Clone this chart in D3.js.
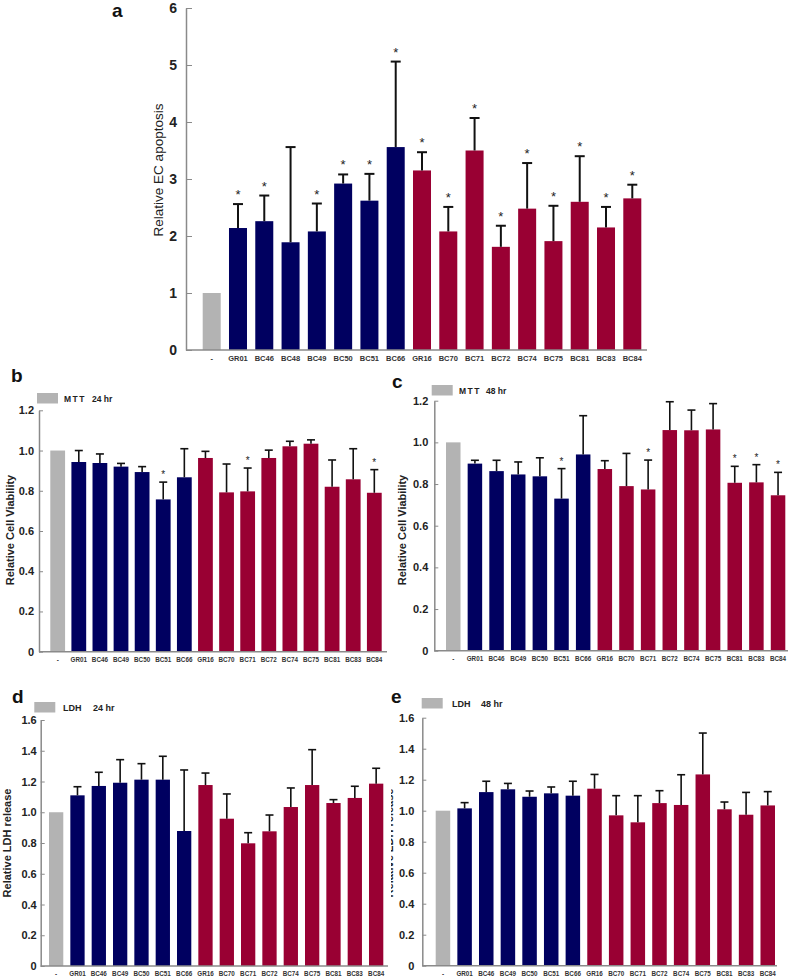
<!DOCTYPE html>
<html>
<head>
<meta charset="utf-8">
<script src="https://cdn.jsdelivr.net/npm/d3@7"></script>
<style>
  body { margin: 0; background: #fff; }
  text { font-family: "Liberation Sans", Arial, sans-serif; }
</style>
</head>
<body>
<div id="chart"></div>
<script>
// categories
var catsA = ["-","GR01","BC46","BC48","BC49","BC50","BC51","BC66","GR16","BC70","BC71","BC72","BC74","BC75","BC81","BC83","BC84"]
var groupsA = ["ctrl","gr","gr","gr","gr","gr","gr","gr","bc","bc","bc","bc","bc","bc","bc","bc","bc"]
var catsB = ["-","GR01","BC46","BC49","BC50","BC51","BC66","GR16","BC70","BC71","BC72","BC74","BC75","BC81","BC83","BC84"]
var groupsB = ["ctrl","gr","gr","gr","gr","gr","gr","bc","bc","bc","bc","bc","bc","bc","bc","bc"]

// a: relative EC apoptosis
var apoMean = [1.0, 2.14, 2.26, 1.89, 2.08, 2.92, 2.62, 3.56, 3.15, 2.08, 3.50, 1.81, 2.48, 1.91, 2.60, 2.15, 2.66]
var apoErr  = [0, 0.42, 0.45, 1.67, 0.49, 0.16, 0.47, 1.50, 0.32, 0.43, 0.57, 0.37, 0.80, 0.62, 0.80, 0.36, 0.24]
var apoSig  = [0,1,1,0,1,1,1,1,1,1,1,1,1,1,1,1,1]

// b: MTT 24 hr
var mtt24Mean = [1.0, 0.943, 0.938, 0.92, 0.893, 0.757, 0.867, 0.963, 0.792, 0.797, 0.963, 1.021, 1.034, 0.82, 0.857, 0.79]
var mtt24Err  = [0, 0.057, 0.045, 0.016, 0.027, 0.086, 0.142, 0.033, 0.141, 0.116, 0.039, 0.025, 0.019, 0.133, 0.152, 0.115]
var mtt24Sig  = [0,0,0,0,0,1,0,0,0,1,0,0,0,0,0,1]

// c: MTT 48 hr
var mtt48Mean = [1.0, 0.898, 0.862, 0.846, 0.837, 0.73, 0.942, 0.872, 0.79, 0.774, 1.059, 1.058, 1.062, 0.806, 0.808, 0.746]
var mtt48Err  = [0, 0.016, 0.052, 0.06, 0.089, 0.144, 0.186, 0.04, 0.157, 0.141, 0.136, 0.097, 0.124, 0.079, 0.085, 0.11]
var mtt48Sig  = [0,0,0,0,0,1,0,0,0,1,0,0,0,1,1,1]

// d: LDH 24 hr
var ldh24Mean = [1.0, 1.11, 1.171, 1.192, 1.212, 1.212, 0.878, 1.177, 0.958, 0.798, 0.876, 1.034, 1.177, 1.06, 1.093, 1.186]
var ldh24Err  = [0, 0.056, 0.089, 0.15, 0.104, 0.152, 0.397, 0.078, 0.161, 0.069, 0.106, 0.124, 0.23, 0.022, 0.076, 0.1]

// e: LDH 48 hr
var ldh48Mean = [1.0, 1.015, 1.12, 1.138, 1.09, 1.112, 1.097, 1.142, 0.97, 0.925, 1.049, 1.037, 1.234, 1.009, 0.974, 1.034]
var ldh48Err  = [0, 0.037, 0.07, 0.038, 0.037, 0.041, 0.093, 0.092, 0.127, 0.172, 0.08, 0.195, 0.267, 0.047, 0.144, 0.089]

var ticksA = [0,1,2,3,4,5,6]
var ticksMTT = [0,0.2,0.4,0.6,0.8,1.0,1.2]
var ticksLDH = [0,0.2,0.4,0.6,0.8,1.0,1.2,1.4,1.6]

var color = d3.scaleOrdinal()
    .domain(["ctrl","gr","bc"])
    .range(["#b3b3b3","#000060","#990033"])

var svg = d3.select("#chart").append("svg")
    .attr("width", 789)
    .attr("height", 977)

svg.append("rect").attr("width", 789).attr("height", 977).attr("fill", "#fff")

// panel e's y title is cut off on its left half in the original
svg.append("defs").append("clipPath").attr("id", "clipE")
    .append("rect").attr("x", 391).attr("y", 660).attr("width", 400).attr("height", 320)

function fmt(v) { return v === 0 ? "0" : d3.format(".1f")(v) }

function drawPanel(p) {
    var g = svg.append("g")
    if (p.clip) g.attr("clip-path", "url(#" + p.clip + ")")

    var x = d3.scaleBand()
        .domain(p.cats)
        .range(p.band)
        .paddingInner(p.pad)
        .paddingOuter(0)

    var y = d3.scaleLinear()
        .domain([0, p.ymax])
        .range(p.yrange)

    // bars
    g.selectAll(null)
        .data(p.means)
        .join("rect")
        .attr("x", (d, i) => x(p.cats[i]))
        .attr("width", x.bandwidth())
        .attr("y", d => y(d))
        .attr("height", d => y(0) - y(d))
        .attr("fill", (d, i) => color(p.groups[i]))

    // error bars + stars
    var cap = p.cap
    p.means.forEach(function(m, i) {
        if (!p.errs[i]) return
        var cx = x(p.cats[i]) + x.bandwidth() / 2
        var top = y(m + p.errs[i])
        g.append("line").attr("x1", cx).attr("x2", cx).attr("y1", y(m)).attr("y2", top)
            .attr("stroke", "#111").attr("stroke-width", p.ew)
        g.append("line").attr("x1", cx - cap / 2).attr("x2", cx + cap / 2).attr("y1", top).attr("y2", top)
            .attr("stroke", "#111").attr("stroke-width", p.ew)
        if (p.sigs && p.sigs[i]) {
            g.append("text").attr("x", cx).attr("y", top - p.starGap)
                .attr("text-anchor", "middle")
                .style("font-size", p.starSize + "px")
                .attr("fill", "#222")
                .text("*")
        }
    })

    // y axis
    var yAxis = g.append("g")
        .attr("transform", "translate(" + p.axisX + ",0)")
        .call(d3.axisLeft(y).tickValues(p.ticks).tickFormat(p.tickFmt)
            .tickSizeInner(-p.tick).tickSizeOuter(0).tickPadding(p.tickPad))
    yAxis.select(".domain").attr("stroke", "#8a8a8a").attr("stroke-width", 1.5)
    yAxis.selectAll(".tick line").attr("stroke", "#8a8a8a").attr("stroke-width", 1)
    yAxis.selectAll(".tick text")
        .style("font-size", p.tickSize + "px")
        .style("font-weight", "bold")
        .attr("fill", "#222")

    // x axis
    var xAxis = g.append("g")
        .attr("transform", "translate(0," + y(0) + ")")
        .call(d3.axisBottom(x).tickSize(0).tickPadding(p.xPad))
    xAxis.select(".domain").remove()
    xAxis.selectAll(".tick text")
        .style("font-size", p.xSize + "px")
        .style("font-weight", "bold")
        .attr("fill", "#333")
    g.append("line")
        .attr("x1", p.axisX).attr("x2", p.xEnd)
        .attr("y1", y(0)).attr("y2", y(0))
        .attr("stroke", "#8a8a8a").attr("stroke-width", 1.5)

    // y title
    g.append("text")
        .attr("transform", "translate(" + p.titleX + "," + p.titleY + ") rotate(-90)")
        .attr("text-anchor", "middle")
        .attr("dominant-baseline", "central")
        .style("font-size", p.titleSize + "px")
        .style("font-weight", p.titleWeight)
        .attr("fill", "#222")
        .text(p.title)

    // panel letter
    svg.append("text")
        .attr("x", p.letter[1]).attr("y", p.letter[2])
        .style("font-size", "19px").style("font-weight", "bold")
        .attr("fill", "#111")
        .text(p.letter[0])

    // legend
    if (p.legend) {
        var L = p.legend
        svg.append("rect").attr("x", L.x).attr("y", L.y).attr("width", 21).attr("height", 10.5)
            .attr("fill", color("ctrl"))
        svg.append("text").attr("x", L.tx).attr("y", L.y + 9)
            .style("font-size", L.size + "px").style("font-weight", "bold")
            .style("letter-spacing", L.ls + "px").attr("fill", "#222")
            .text(L.name)
        svg.append("text").attr("x", L.tx2).attr("y", L.y + 9)
            .style("font-size", L.size + "px").style("font-weight", "bold").attr("fill", "#222")
            .text(L.time)
    }
}

// a
drawPanel({
    cats: catsA, groups: groupsA, means: apoMean, errs: apoErr, sigs: apoSig,
    band: [202.7, 641.3], pad: 0.315, ymax: 6, yrange: [350, 8],
    axisX: 186, xEnd: 647, ticks: ticksA, tickFmt: d3.format("d"),
    tick: 6, tickPad: 9, tickSize: 14, xSize: 7.5, xPad: 6,
    cap: 10, ew: 2, starGap: 5, starSize: 13,
    title: "Relative EC apoptosis", titleX: 158, titleY: 170, titleSize: 13.5, titleWeight: "normal",
    letter: ["a", 112, 17]
})

// b
drawPanel({
    cats: catsB, groups: groupsB, means: mtt24Mean, errs: mtt24Err, sigs: mtt24Sig,
    band: [50.3, 381.7], pad: 0.30, ymax: 1.2, yrange: [651.7, 410.3],
    axisX: 39, xEnd: 387, ticks: ticksMTT, tickFmt: fmt,
    tick: 4, tickPad: 5, tickSize: 11, xSize: 6.3, xPad: 6,
    cap: 8, ew: 1.6, starGap: 4, starSize: 10,
    title: "Relative Cell Viability", titleX: 10, titleY: 530, titleSize: 11, titleWeight: "bold",
    letter: ["b", 11, 382],
    legend: {x: 37, y: 393, tx: 64, tx2: 92, size: 8.5, ls: 1.5, name: "MTT", time: "24 hr"}
})

// c
drawPanel({
    cats: catsB, groups: groupsB, means: mtt48Mean, errs: mtt48Err, sigs: mtt48Sig,
    band: [446, 785.3], pad: 0.33, ymax: 1.2, yrange: [650.7, 400.7],
    axisX: 434.3, xEnd: 788, ticks: ticksMTT, tickFmt: fmt,
    tick: 4, tickPad: 6, tickSize: 11, xSize: 6.3, xPad: 6,
    cap: 8, ew: 1.6, starGap: 4, starSize: 10,
    title: "Relative Cell Viability", titleX: 402, titleY: 530, titleSize: 11, titleWeight: "bold",
    letter: ["c", 392, 388],
    legend: {x: 431.7, y: 385, tx: 459, tx2: 486, size: 8.5, ls: 1.5, name: "MTT", time: "48 hr"}
})

// d
drawPanel({
    cats: catsB, groups: groupsB, means: ldh24Mean, errs: ldh24Err, sigs: null,
    band: [49, 383.3], pad: 0.33, ymax: 1.6, yrange: [966, 720],
    axisX: 40.7, xEnd: 388, ticks: ticksLDH, tickFmt: fmt,
    tick: 4, tickPad: 4, tickSize: 11, xSize: 6.3, xPad: 6,
    cap: 8, ew: 1.6, starGap: 4, starSize: 10,
    title: "Relative LDH release", titleX: 7, titleY: 843, titleSize: 11, titleWeight: "bold",
    letter: ["d", 12, 703],
    legend: {x: 34.3, y: 702, tx: 63, tx2: 93, size: 9, ls: 0, name: "LDH", time: "24 hr"}
})

// e
drawPanel({
    cats: catsB, groups: groupsB, means: ldh48Mean, errs: ldh48Err, sigs: null,
    band: [435.7, 775], pad: 0.33, ymax: 1.6, yrange: [965.7, 717.7],
    axisX: 422.3, xEnd: 777, ticks: ticksLDH, tickFmt: fmt,
    tick: 4, tickPad: 8, tickSize: 11, xSize: 6.3, xPad: 6,
    cap: 8, ew: 1.6, starGap: 4, starSize: 10,
    title: "Relative LDH release", titleX: 389, titleY: 843, titleSize: 11, titleWeight: "bold",
    letter: ["e", 391, 703], clip: "clipE",
    legend: {x: 421.7, y: 698, tx: 452, tx2: 481, size: 9, ls: 0, name: "LDH", time: "48 hr"}
})
</script>
</body>
</html>
